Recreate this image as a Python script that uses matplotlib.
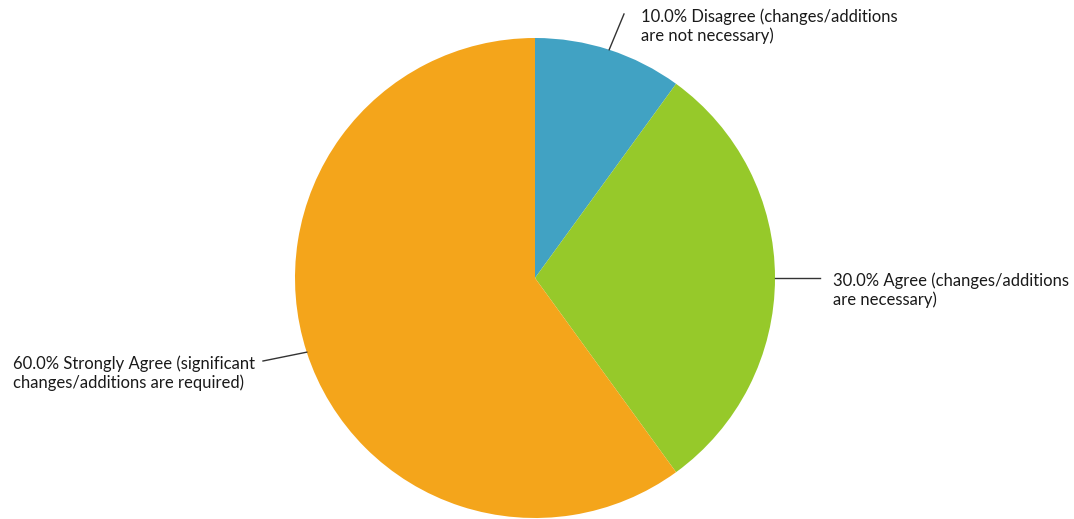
import numpy as np
import matplotlib.pyplot as plt

plt.rcParams['font.family'] = ['Lato', 'DejaVu Sans']

# Data
labels = ["Disagree (changes/additions\nare not necessary)",
          "Agree (changes/additions\nare necessary)",
          "Strongly Agree (significant\nchanges/additions are required)"]
shares = [10.0, 30.0, 60.0]
colors = ["#41A2C3", "#96C92A", "#F4A51B"]

W, H = 1074, 519
fig = plt.figure(figsize=(W / 100, H / 100), dpi=100)
ax = fig.add_axes([0, 0, 1, 1])

cx, cy, r = 535, H - 278, 240
wedges, _ = ax.pie(shares, colors=colors, startangle=90, counterclock=False,
                   center=(cx, cy), radius=r, frame=True)
ax.set_xlim(0, W)
ax.set_ylim(0, H)
ax.set_aspect('equal')
ax.axis('off')

# label placement: (text x, text y top, line end x, line end y)
place = [
    (641, H - 8, 624, H - 14),
    (833, H - 272, 820, H - 278),
    (13, H - 355, 263, H - 361),
]
for w, lab, s, (tx, ty, lx, ly) in zip(wedges, labels, shares, place):
    ang = np.deg2rad((w.theta1 + w.theta2) / 2)
    px, py = cx + r * np.cos(ang), cy + r * np.sin(ang)
    ax.plot([px, lx], [py, ly], color='#333333', lw=1)
    ax.text(tx, ty, f"{s:.1f}% {lab}", ha='left', va='top', fontsize=12,
            color='#1a1a1a', linespacing=1.2)

fig.savefig("out.png", dpi=100)
